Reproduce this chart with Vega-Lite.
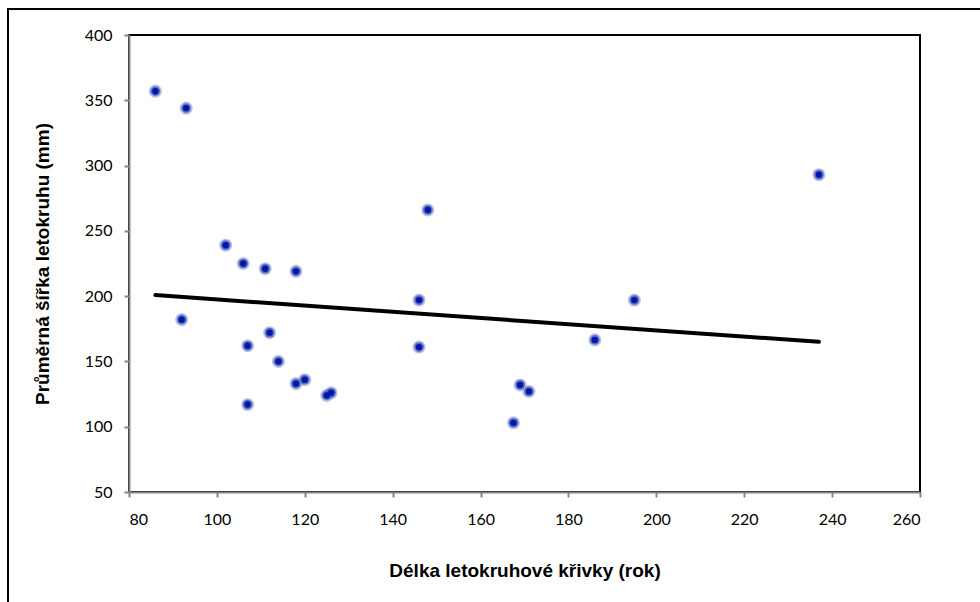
{
  "$schema": "https://vega.github.io/schema/vega-lite/v6.json",
  "width": 791,
  "height": 457,
  "autosize": {"type": "none"},
  "padding": {"left": 129, "top": 35, "right": 60, "bottom": 110},
  "background": "white",
  "config": {
    "view": {"stroke": "black", "strokeWidth": 2},
    "axis": {
      "grid": false,
      "domainColor": "#868686",
      "domainWidth": 2,
      "tickColor": "#868686",
      "tickWidth": 2,
      "tickSize": 5,
      "labelFont": "Lato",
      "labelFontSize": 16,
      "labelColor": "black",
      "titleFont": "Liberation Sans",
      "titleFontSize": 19,
      "titleFontWeight": "bold",
      "titleColor": "black"
    }
  },
  "data": {
    "values": [
      {"delka": 86, "sirka": 357},
      {"delka": 93, "sirka": 344},
      {"delka": 102, "sirka": 239},
      {"delka": 106, "sirka": 225},
      {"delka": 111, "sirka": 221},
      {"delka": 118, "sirka": 219},
      {"delka": 92, "sirka": 182},
      {"delka": 107, "sirka": 162},
      {"delka": 112, "sirka": 172},
      {"delka": 114, "sirka": 150},
      {"delka": 118, "sirka": 133},
      {"delka": 120, "sirka": 136},
      {"delka": 125, "sirka": 124},
      {"delka": 126, "sirka": 126},
      {"delka": 107, "sirka": 117},
      {"delka": 148, "sirka": 266},
      {"delka": 146, "sirka": 197},
      {"delka": 146, "sirka": 161},
      {"delka": 169, "sirka": 132},
      {"delka": 171, "sirka": 127},
      {"delka": 167.5, "sirka": 103},
      {"delka": 186, "sirka": 166.5},
      {"delka": 195, "sirka": 197},
      {"delka": 237, "sirka": 293}
    ]
  },
  "layer": [
    {
      "mark": {"type": "rect", "fill": null, "stroke": "black", "strokeWidth": 2, "clip": false},
      "data": {"values": [{}]},
      "encoding": {
        "x": {"value": -121},
        "x2": {"value": 900},
        "y": {"value": -26},
        "y2": {"value": 700}
      }
    },
    {
      "mark": {"type": "circle", "color": "#8a98d4", "opacity": 0.6, "size": 170},
      "encoding": {
        "x": {
          "field": "delka",
          "type": "quantitative",
          "scale": {"domain": [80, 260], "nice": false, "zero": false},
          "axis": {"values": [80, 100, 120, 140, 160, 180, 200, 220, 240, 260], "labelPadding": 14, "titlePadding": 34},
          "title": "Délka letokruhové křivky (rok)"
        },
        "y": {
          "field": "sirka",
          "type": "quantitative",
          "scale": {"domain": [50, 400], "nice": false, "zero": false},
          "axis": {"values": [50, 100, 150, 200, 250, 300, 350, 400], "labelPadding": 12, "titlePadding": 32},
          "title": "Průměrná šířka letokruhu (mm)"
        }
      }
    },
    {
      "mark": {"type": "circle", "color": "#4658b8", "opacity": 0.8, "size": 95},
      "encoding": {
        "x": {"field": "delka", "type": "quantitative"},
        "y": {"field": "sirka", "type": "quantitative"}
      }
    },
    {
      "mark": {"type": "circle", "color": "#0018a8", "opacity": 1, "size": 40},
      "encoding": {
        "x": {"field": "delka", "type": "quantitative"},
        "y": {"field": "sirka", "type": "quantitative"}
      }
    },
    {
      "transform": [{"regression": "sirka", "on": "delka"}],
      "mark": {"type": "line", "color": "black", "strokeWidth": 4, "strokeCap": "round"},
      "encoding": {
        "x": {"field": "delka", "type": "quantitative"},
        "y": {"field": "sirka", "type": "quantitative"}
      }
    }
  ]
}
